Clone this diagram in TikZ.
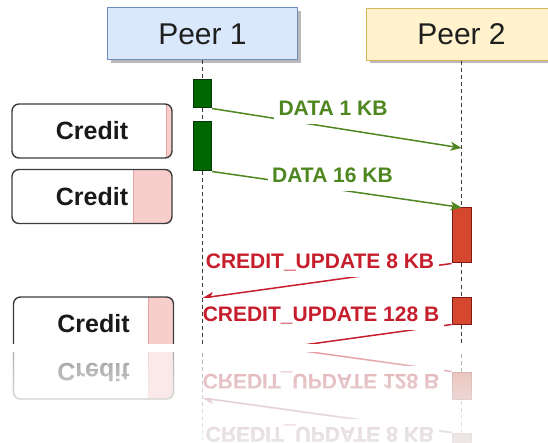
\documentclass[tikz,border=0pt]{standalone}
\usepackage{fontspec}
\setmainfont{Liberation Sans}
\usetikzlibrary{arrows.meta,shadows}

% palette
\definecolor{peerAfill}{HTML}{DAE8FC}
\definecolor{peerAline}{HTML}{6C8EBF}
\definecolor{peerBfill}{HTML}{FFF2CC}
\definecolor{peerBline}{HTML}{D6B656}
\definecolor{actGreen}{HTML}{006600}
\definecolor{actGreenLine}{HTML}{0B360B}
\definecolor{actRed}{HTML}{D5472E}
\definecolor{actRedLine}{HTML}{7E1A12}
\definecolor{dataCol}{HTML}{4E8620}
\definecolor{updCol}{HTML}{C61E2C}
\definecolor{creditFill}{HTML}{F8CECC}
\definecolor{creditEdge}{HTML}{E3A3A3}
\definecolor{boxEdge}{HTML}{3C3C3C}
\definecolor{lifeCol}{HTML}{3A3A3A}

\tikzset{
  peer/.style={draw, line width=1pt, minimum width=190pt, minimum height=52pt,
    inner sep=0pt, text=black!88, font=\fontsize{30}{36}\selectfont,
    drop shadow={shadow xshift=3pt, shadow yshift=-3pt, fill=black!45, opacity=0.6}},
  act/.style={draw=#1Line, fill=#1, line width=1pt, minimum width=18pt, inner sep=0pt},
  credit/.style={draw=boxEdge, line width=1.4pt, rounded corners=7pt,
    minimum width=160pt, minimum height=54pt, inner sep=0pt,
    font=\bfseries\fontsize{25}{30}\selectfont, text=black!90,
    path picture={
      \fill[creditFill, sharp corners] ([xshift=-#1pt]path picture bounding box.north east)
        rectangle (path picture bounding box.south east);
      \draw[creditEdge, sharp corners, line width=1pt]
        ([xshift=-#1pt]path picture bounding box.north east)
        -- ([xshift=-#1pt]path picture bounding box.south east);}},
  msg/.style={fill=white, inner xsep=4.5pt, inner ysep=8.5pt,
    text height=15.3pt, text depth=0pt, font=\bfseries\fontsize{21}{25}\selectfont},
  datamsg/.style={msg, text=dataCol},
  updmsg/.style={msg, text=updCol},
  flow/.style={line width=1.5pt, -{Stealth[length=11pt,width=9pt,inset=3pt]}},
  lifeline/.style={draw=lifeCol, line width=1.3pt, dash pattern=on 4pt off 3pt},
}

% the whole sequence chart, in pixel-like units (y grows downwards)
\newcommand\seqdiagram{%
  % participants
  \node[peer, fill=peerAfill, draw=peerAline] (p1) at (202.5,34) {Peer 1};
  \node[peer, fill=peerBfill, draw=peerBline] (p2) at (461.5,34.5) {Peer 2};
  % credit windows, pink part = consumed credit
  \node[credit=6]  (cA) at (92,131)   {Credit};
  \node[credit=39] (cB) at (92,196.5) {Credit};
  \node[credit=25] (cC) at (93.5,324) {Credit};
  % activations
  \node[act=actGreen, minimum height=28pt] (g1) at (202.5,94)    {};
  \node[act=actGreen, minimum height=49pt] (g2) at (202.5,146.5) {};
  \node[act=actRed,   minimum height=55pt, minimum width=19pt] (r1) at (461.5,235.5) {};
  \node[act=actRed,   minimum height=27pt, minimum width=19pt] (r2) at (461.5,310.5) {};
  % message end points on the lifelines
  \coordinate (t1) at (461.5,148);
  \coordinate (t3) at (202.5,298);
  \coordinate (t4) at (202.5,359);
  \coordinate (e1) at (202.5,360);
  \coordinate (e2) at (461.5,360);
  % messages
  \draw[flow, draw=dataCol] (g1.south east) -- (t1);
  \draw[flow, draw=dataCol] (g2.south east) -- (r1.north);
  \draw[flow, draw=updCol]  (r1.south west) -- (t3);
  \draw[flow, draw=updCol]  (r2.south west) -- (t4);
  \node[datamsg] (m1) at (333,108)   {DATA 1 KB};
  \node[datamsg] (m2) at (332.5,174.5) {DATA 16 KB};
  \node[updmsg]  (m3) at (320,260.5) {CREDIT\_UPDATE 8 KB};
  \node[updmsg]  (m4) at (321,314)   {CREDIT\_UPDATE 128 B};
  % lifelines between activations
  \draw[lifeline] (p1.south) -- (g1.north);
  \draw[lifeline] (g1.south) -- (g2.north);
  \draw[lifeline] (g2.south) -- (e1);
  \draw[lifeline] (p2.south) -- (r1.north);
  \draw[lifeline] (r1.south) -- (r2.north);
  \draw[lifeline] (r2.south) -- (e2);
}

\begin{document}
\begin{tikzpicture}[x=1pt,y=-1pt]
\useasboundingbox (0,0) rectangle (548,443);
% chart
\begin{scope}
  \clip (0,0) rectangle (548,343);
  \seqdiagram
\end{scope}
% mirrored copy below
\begin{scope}
  \clip (0,352) rectangle (548,443);
  \begin{scope}[shift={(0,696)}, yscale=-1, transform shape]
    \seqdiagram
  \end{scope}
\end{scope}
% fade the mirrored copy out towards the bottom
\fill[white, opacity=0.55] (0,352) rectangle (548,443);
\foreach \k in {0,...,45} {\fill[white, opacity=0.038] (0,{352+2*\k}) rectangle (548,443);}
\end{tikzpicture}
\end{document}
